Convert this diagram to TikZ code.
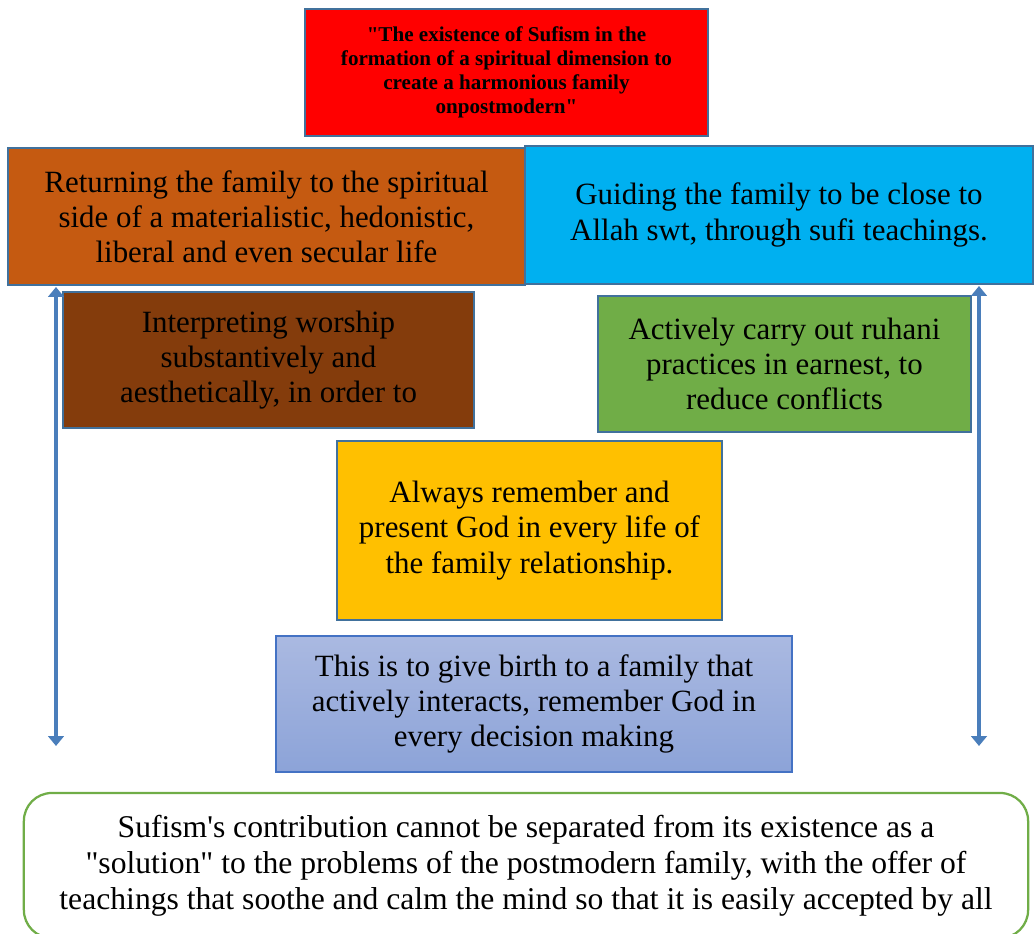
\documentclass[tikz,border=0pt]{standalone}
\usepackage{fontspec}
\setmainfont{Liberation Serif}
\usepackage{tikz}
\usetikzlibrary{arrows.meta}

\definecolor{boxline}{RGB}{65,113,156}
\definecolor{burnt}{RGB}{197,90,17}
\definecolor{skyblue}{RGB}{0,176,240}
\definecolor{rust}{RGB}{132,60,12}
\definecolor{leaf}{RGB}{112,173,71}
\definecolor{gold}{RGB}{255,192,0}
\definecolor{lavtop}{RGB}{170,185,225}
\definecolor{lavbot}{RGB}{140,163,216}
\definecolor{lavline}{RGB}{68,114,196}
\definecolor{shaft}{RGB}{74,126,187}

\newcommand{\dq}{\textquotedbl}

\tikzset{
  box/.style = {draw = boxline , line width = 1.6pt , align = center , inner sep = 0pt ,
                font = \fontsize{22}{25}\selectfont},
  sidearrow/.style = {draw = shaft , line width = 3.5pt , {Triangle[width = 11pt , length = 7pt]}-{Triangle[width = 11pt , length = 7pt]}}
}

\begin{document}
\begin{tikzpicture}[x = 0.025cm , y = -0.025cm]
    \useasboundingbox (0,0) rectangle (1035,934);
    % judul
    \node[box , fill = red , minimum width = 10.075cm , minimum height = 3.175cm ,
          font = \fontsize{15}{17}\selectfont\bfseries] (title) at (506.5,72.5)
          {\dq The existence of Sufism in the\\formation of a spiritual dimension to\\create a harmonious family\\onpostmodern\dq};
    % baris pertama
    \node[box , fill = burnt , minimum width = 12.925cm , minimum height = 3.425cm] (ret) at (266.5,216.5)
          {Returning the family to the spiritual\\side of a materialistic, hedonistic,\\liberal and even secular life};
    \node[box , fill = skyblue , minimum width = 12.7cm , minimum height = 3.45cm] (guide) at (779,215)
          {Guiding the family to be close to\\Allah swt, through sufi teachings.};
    % baris kedua
    \node[box , fill = rust , minimum width = 10.275cm , minimum height = 3.4cm] (worship) at (268.5,360)
          {Interpreting worship\\substantively and\\aesthetically, in order to};
    \node[box , fill = leaf , minimum width = 9.325cm , minimum height = 3.4cm] (ruhani) at (784.5,364)
          {Actively carry out ruhani\\practices in earnest, to\\reduce conflicts};
    % tengah
    \node[box , fill = gold , minimum width = 9.625cm , minimum height = 4.475cm] (remember) at (529.5,530.5)
          {Always remember and\\present God in every life of\\the family relationship.};
    \node[box , draw = lavline , line width = 1pt , top color = lavtop , bottom color = lavbot ,
          minimum width = 12.9cm , minimum height = 3.4cm] (birth) at (534,704)
          {This is to give birth to a family that\\actively interacts, remember God in\\every decision making};
    % kesimpulan
    \node[box , draw = leaf , fill = white , rounded corners = 0.7cm , font = \fontsize{22.5}{25.5}\selectfont ,
          minimum width = 25.1cm , minimum height = 3.625cm] (sum) at (526,865.5)
          {Sufism\textquotesingle s contribution cannot be separated from its existence as a\\\dq solution\dq{} to the problems of the postmodern family, with the offer of\\teachings that soothe and calm the mind so that it is easily accepted by all};
    % panah samping
    \coordinate (ltop) at (56,287);
    \coordinate (lbot) at (56,746);
    \coordinate (rtop) at (979,286);
    \coordinate (rbot) at (979,746);
    \draw[sidearrow] (ltop) -- (lbot);
    \draw[sidearrow] (rtop) -- (rbot);
\end{tikzpicture}
\end{document}
